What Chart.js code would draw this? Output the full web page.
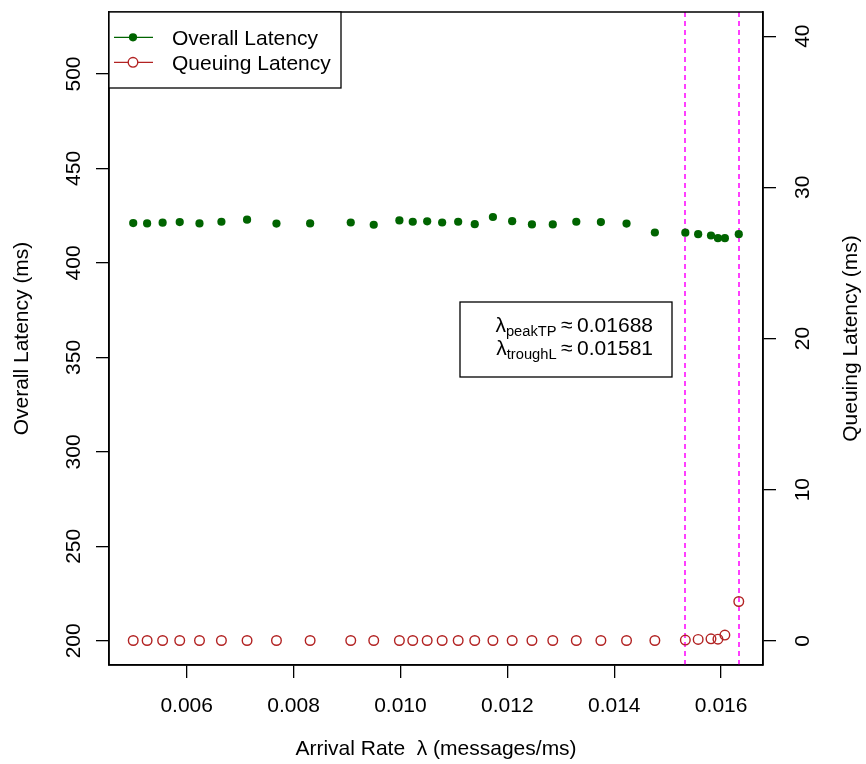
<!DOCTYPE html>
<html>
<head>
<meta charset="utf-8">
<script src="https://cdn.jsdelivr.net/npm/chart.js@4/dist/chart.umd.min.js"></script>
<style>
html,body{margin:0;padding:0;background:#fff;}
#wrap{width:866px;height:764px;}
</style>
</head>
<body>
<div id="wrap"><canvas id="c" width="866" height="764"></canvas></div>
<script>
// ---- data ----
const lambdaRate = [0.00500, 0.00526, 0.00555, 0.00587, 0.00624, 0.00665, 0.00713, 0.00768, 0.00831, 0.00907,
  0.00950, 0.00998, 0.01023, 0.01050, 0.01078, 0.01108, 0.01139, 0.01173, 0.01209, 0.01246,
  0.01285, 0.01329, 0.01375, 0.01423, 0.01476, 0.01533, 0.01557, 0.01581, 0.01594, 0.01607, 0.01633];
const overallLatency = [421.1, 420.9, 421.3, 421.6, 420.9, 421.8, 422.9, 420.8, 420.9, 421.4,
  420.2, 422.5, 421.8, 422.0, 421.4, 421.8, 420.5, 424.3, 422.1, 420.4,
  420.4, 421.8, 421.6, 420.8, 416.1, 416.0, 415.2, 414.5, 413.1, 413.1, 415.2];
const queuingLatency = [0.02, 0.02, 0.02, 0.02, 0.02, 0.02, 0.02, 0.02, 0.02, 0.02,
  0.02, 0.02, 0.02, 0.02, 0.02, 0.02, 0.02, 0.02, 0.02, 0.02,
  0.02, 0.02, 0.02, 0.02, 0.02, 0.05, 0.09, 0.13, 0.11, 0.38, 2.6];
const xTicks = [0.006, 0.008, 0.010, 0.012, 0.014, 0.016];
const yLeftTicks = [200, 250, 300, 350, 400, 450, 500];
const yRightTicks = [0, 10, 20, 30, 40];
const yLeftLim = [200, 520];
const yRightLim = [0, 40];
const vLines = [0.01533, 0.01633];
const seriesNames = ["Overall Latency", "Queuing Latency"];
const annotRows = [["peakTP", "0.01688"], ["troughL", "0.01581"]];
const xTitle = "Arrival Rate  \u03BB (messages/ms)";
const yLeftTitle = "Overall Latency (ms)";
const yRightTitle = "Queuing Latency (ms)";

// ---- helpers ----
function ext(lo, hi){ const d = (hi - lo) * 0.04; return [lo - d, hi + d]; }
const xr = ext(Math.min(...lambdaRate), Math.max(...lambdaRate));
const yl = ext(yLeftLim[0], yLeftLim[1]);
const yr = ext(yRightLim[0], yRightLim[1]);
const GREEN = '#006400', RED = '#B22222';
const FONT = '"Liberation Sans", Arial, Helvetica, sans-serif';
const FS = 21;

const overPlugin = {
  id: 'rstyle',
  beforeDatasetsDraw(chart){
    const ctx = chart.ctx, a = chart.chartArea, x = chart.scales.x;
    ctx.save();
    ctx.strokeStyle = '#FF00FF';
    ctx.lineWidth = 1.5;
    ctx.setLineDash([5, 4]);
    vLines.forEach(v => {
      const px = Math.round(x.getPixelForValue(v));
      ctx.beginPath(); ctx.moveTo(px, a.top); ctx.lineTo(px, a.bottom); ctx.stroke();
    });
    ctx.restore();
  },
  afterDraw(chart){
    const ctx = chart.ctx, a = chart.chartArea;
    const x = chart.scales.x, y = chart.scales.y, y1 = chart.scales.y1;
    ctx.save();
    // box
    ctx.strokeStyle = '#000'; ctx.lineWidth = 1.5; ctx.setLineDash([]);
    ctx.strokeRect(a.left, a.top, a.right - a.left, a.bottom - a.top);
    ctx.fillStyle = '#000';
    ctx.font = FS + 'px ' + FONT;
    // x tick labels
    ctx.textAlign = 'center'; ctx.textBaseline = 'alphabetic';
    xTicks.forEach(v => ctx.fillText(v.toFixed(3), x.getPixelForValue(v), a.bottom + 47));
    // left tick labels (rotated)
    yLeftTicks.forEach(v => {
      ctx.save(); ctx.translate(a.left - 29.5, y.getPixelForValue(v)); ctx.rotate(-Math.PI/2);
      ctx.fillText(String(v), 0, 0); ctx.restore();
    });
    yRightTicks.forEach(v => {
      ctx.save(); ctx.translate(a.right + 46, y1.getPixelForValue(v)); ctx.rotate(-Math.PI/2);
      ctx.fillText(String(v), 0, 0); ctx.restore();
    });
    // titles
    const cx = (a.left + a.right) / 2, cy = (a.top + a.bottom) / 2;
    ctx.fillText(xTitle, cx, a.bottom + 90);
    ctx.save(); ctx.translate(a.left - 81, cy); ctx.rotate(-Math.PI/2); ctx.fillText(yLeftTitle, 0, 0); ctx.restore();
    ctx.save(); ctx.translate(a.right + 94, cy); ctx.rotate(-Math.PI/2); ctx.fillText(yRightTitle, 0, 0); ctx.restore();

    // legend
    const lx = a.left, ly = a.top, lw = 232, lh = 76;
    ctx.fillStyle = '#fff'; ctx.fillRect(lx, ly, lw, lh);
    ctx.strokeStyle = '#000'; ctx.lineWidth = 1.3; ctx.strokeRect(lx, ly, lw, lh);
    const rows = [ly + 25.3, ly + 50.3];
    [GREEN, RED].forEach((col, i) => {
      ctx.strokeStyle = col; ctx.lineWidth = 1.2;
      ctx.beginPath(); ctx.moveTo(lx + 5, rows[i]); ctx.lineTo(lx + 44, rows[i]); ctx.stroke();
      ctx.beginPath(); ctx.arc(lx + 24, rows[i], i === 0 ? 4.1 : 4.8, 0, Math.PI * 2);
      if (i === 0) { ctx.fillStyle = col; ctx.fill(); }
      else { ctx.fillStyle = '#fff'; ctx.fill(); ctx.lineWidth = 1.4; ctx.stroke(); }
      ctx.fillStyle = '#000'; ctx.textAlign = 'left';
      ctx.fillText(seriesNames[i], lx + 63, rows[i] + 7.6);
    });

    // annotation box
    const bx = 460, by = 302, bw = 212, bh = 75;
    ctx.fillStyle = '#fff'; ctx.fillRect(bx, by, bw, bh);
    ctx.strokeStyle = '#000'; ctx.lineWidth = 1.3; ctx.strokeRect(bx, by, bw, bh);
    const base = [331.5, 354.5];
    const SUB = 14.7;
    annotRows.forEach((r, i) => {
      const big = FS + 'px ' + FONT, small = SUB + 'px ' + FONT;
      ctx.font = big; const wl = ctx.measureText('\u03BB').width;
      ctx.font = small; const ws = ctx.measureText(r[0]).width;
      ctx.font = big; const wa = ctx.measureText('\u2248').width, wv = ctx.measureText(r[1]).width;
      const gap = 4.5;
      const total = wl + ws + gap + wa + gap + wv;
      let px = 653 - total;
      ctx.fillStyle = '#000'; ctx.textAlign = 'left';
      ctx.font = big; ctx.fillText('\u03BB', px, base[i]); px += wl;
      ctx.font = small; ctx.fillText(r[0], px, base[i] + 4.5); px += ws + gap;
      ctx.font = big; ctx.fillText('\u2248', px, base[i]); px += wa + gap;
      ctx.fillText(r[1], px, base[i]);
    });
    ctx.restore();
  }
};

const axisCommon = {
  grid: { display: true, drawOnChartArea: false, drawTicks: true, tickLength: 13, color: '#000', tickWidth: 1.3, lineWidth: 1.3 },
  border: { display: true, color: '#000', width: 1.5 },
  ticks: { display: false }
};

new Chart(document.getElementById('c'), {
  type: 'scatter',
  data: {
    datasets: [
      {
        label: seriesNames[0],
        data: lambdaRate.map((v, i) => ({ x: v, y: overallLatency[i] })),
        yAxisID: 'y',
        pointRadius: 4.1,
        pointBackgroundColor: GREEN,
        pointBorderColor: GREEN,
        pointBorderWidth: 0,
        showLine: false
      },
      {
        label: seriesNames[1],
        data: lambdaRate.map((v, i) => ({ x: v, y: queuingLatency[i] })),
        yAxisID: 'y1',
        pointRadius: 4.8,
        pointBackgroundColor: 'rgba(0,0,0,0)',
        pointBorderColor: RED,
        pointBorderWidth: 1.4,
        showLine: false
      }
    ]
  },
  options: {
    responsive: false,
    devicePixelRatio: 1,
    animation: false,
    layout: { padding: { top: 12, left: 0, right: 0, bottom: 0 } },
    plugins: { legend: { display: false }, tooltip: { enabled: false } },
    scales: {
      x: Object.assign({}, axisCommon, {
        type: 'linear', position: 'bottom', min: xr[0], max: xr[1],
        afterBuildTicks: s => { s.ticks = xTicks.map(v => ({ value: v })); },
        afterFit: s => { s.height = 99; }
      }),
      y: Object.assign({}, axisCommon, {
        type: 'linear', position: 'left', min: yl[0], max: yl[1],
        afterBuildTicks: s => { s.ticks = yLeftTicks.map(v => ({ value: v })); },
        afterFit: s => { s.width = 109; }
      }),
      y1: Object.assign({}, axisCommon, {
        type: 'linear', position: 'right', min: yr[0], max: yr[1],
        afterBuildTicks: s => { s.ticks = yRightTicks.map(v => ({ value: v })); },
        afterFit: s => { s.width = 103; }
      })
    }
  },
  plugins: [overPlugin]
});
</script>
</body>
</html>
